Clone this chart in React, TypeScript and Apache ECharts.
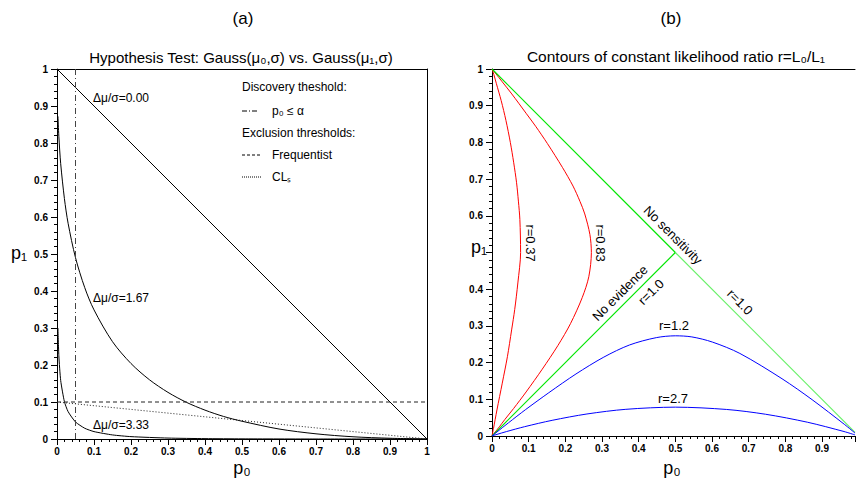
import React, { useEffect, useRef } from "react";
import * as echarts from "echarts";

// ---------- Panel (a) data: p0 vs p1 for Gauss(mu0,sigma) vs Gauss(mu1,sigma) ----------
const dmu000: number[][] = [[0, 1], [1, 0]];
const dmu167: number[][] = [
  [0.0025, 0.872], [0.005, 0.818], [0.01, 0.744], [0.02, 0.65], [0.03, 0.583], [0.05, 0.49],
  [0.075, 0.409], [0.1, 0.349], [0.15, 0.263], [0.2, 0.204], [0.25, 0.16], [0.3, 0.126],
  [0.35, 0.099], [0.4, 0.078], [0.45, 0.061], [0.5, 0.048], [0.6, 0.027], [0.7, 0.014],
  [0.8, 0.006], [0.9, 0.002], [1, 0],
];
const dmu333: number[][] = [
  [0.0025, 0.3], [0.005, 0.225], [0.01, 0.158], [0.02, 0.101], [0.03, 0.074], [0.05, 0.046],
  [0.075, 0.029], [0.1, 0.02], [0.15, 0.011], [0.2, 0.0064], [0.3, 0.0025], [0.4, 0.001],
  [0.5, 0.0004], [0.7, 0], [1, 0],
];
const discoveryLine: number[][] = [[0.05, 0], [0.05, 1]];
const frequentistLine: number[][] = [[0, 0.1], [1, 0.1]];
const clsLine: number[][] = [[0, 0.1], [1, 0]];

// ---------- Panel (b) data: contours of constant likelihood ratio ----------
const r037: number[][] = [
  [0, 1], [0.0003, 0.999], [0.005, 0.985], [0.012, 0.96], [0.025, 0.914], [0.038, 0.86],
  [0.05, 0.8], [0.059, 0.746], [0.067, 0.69], [0.072, 0.64], [0.076, 0.59], [0.078, 0.5],
  [0.0705, 0.417], [0.062, 0.345], [0.0535, 0.289], [0.042, 0.216], [0.028, 0.144],
  [0.0135, 0.071], [0.004, 0.02], [0, 0],
];
const r083: number[][] = [
  [0, 1], [0.009, 0.989], [0.028, 0.965], [0.054, 0.932], [0.094, 0.878], [0.119, 0.844],
  [0.151, 0.797], [0.192, 0.732], [0.221, 0.681], [0.24, 0.639], [0.253, 0.605],
  [0.267, 0.549], [0.271, 0.5], [0.264, 0.434], [0.246, 0.377], [0.214, 0.306], [0.18, 0.247],
  [0.137, 0.182], [0.093, 0.12], [0.059, 0.075], [0.035, 0.045], [0.02, 0.025], [0.0056, 0.007],
  [0, 0],
];
const noSensitivityUpper: number[][] = [[0, 1], [0.5, 0.5]];
const noSensitivityLower: number[][] = [[0.5, 0.5], [0.99, 0.01]];
const noEvidence: number[][] = [[0, 0], [0.5, 0.5]];
const r12: number[][] = [
  [0, 0], [0.0015, 0.0012], [0.0136, 0.011], [0.045, 0.036], [0.091, 0.0715], [0.155, 0.118],
  [0.229, 0.169], [0.305, 0.215], [0.375, 0.248], [0.448, 0.268], [0.5, 0.273], [0.545, 0.27],
  [0.601, 0.256], [0.676, 0.225], [0.791, 0.156], [0.873, 0.099], [0.962, 0.031], [0.99, 0.008],
];
const r27: number[][] = [
  [0, 0], [0.0107, 0.0035], [0.04, 0.0122], [0.089, 0.0254], [0.164, 0.0427], [0.259, 0.06],
  [0.365, 0.0727], [0.5, 0.0786], [0.64, 0.0723], [0.746, 0.0593], [0.86, 0.0376],
  [0.96, 0.0122], [0.99, 0.003],
];

const FONT = "'Liberation Sans', Arial, Helvetica, sans-serif";

function mainXAxis(grid: number, max: number) {
  return {
    gridIndex: grid,
    type: "value",
    min: 0,
    max,
    interval: 0.1,
    position: "bottom",
    axisLine: { show: true, onZero: false, lineStyle: { color: "#000", width: 1 } },
    axisTick: { show: true, length: 6, lineStyle: { color: "#000" } },
    minorTick: { show: true, splitNumber: 5, length: 3, lineStyle: { color: "#000" } },
    splitLine: { show: false },
    minorSplitLine: { show: false },
    axisLabel: {
      show: true,
      margin: 7,
      fontSize: 10,
      fontWeight: "bold",
      fontFamily: FONT,
      color: "#000",
      showMaxLabel: max === 1 ? true : false,
      formatter: (v: number) => String(Math.round(v * 10) / 10),
    },
  };
}
function mainYAxis(grid: number, hideHalf: boolean) {
  return {
    gridIndex: grid,
    type: "value",
    min: 0,
    max: 1,
    interval: 0.1,
    position: "left",
    axisLine: { show: true, onZero: false, lineStyle: { color: "#000", width: 1 } },
    axisTick: { show: true, length: 6, lineStyle: { color: "#000" } },
    minorTick: { show: true, splitNumber: 5, length: 3, lineStyle: { color: "#000" } },
    splitLine: { show: false },
    minorSplitLine: { show: false },
    axisLabel: {
      show: true,
      margin: 9,
      fontSize: 10,
      fontWeight: "bold",
      fontFamily: FONT,
      color: "#000",
      formatter: (v: number) => {
        const r = Math.round(v * 10) / 10;
        if (hideHalf && r === 0.5) return "";
        return String(r);
      },
    },
  };
}
function frameAxis(grid: number, position: string, max: number) {
  return {
    gridIndex: grid,
    type: "value",
    min: 0,
    max,
    position,
    axisLine: { show: true, onZero: false, lineStyle: { color: "#000", width: 1 } },
    axisTick: { show: false },
    axisLabel: { show: false },
    splitLine: { show: false },
  };
}

function lineSeries(data: number[][], grid: number, color: string, type: any = "solid", smooth: any = false, width = 1) {
  return {
    type: "line",
    xAxisIndex: grid === 0 ? 0 : 2,
    yAxisIndex: grid === 0 ? 0 : 2,
    data,
    showSymbol: false,
    symbol: "none",
    smooth,
    lineStyle: { color, width, type },
    silent: true,
  };
}

function txt(x: number, y: number, text: string, size: number, opts: any = {}) {
  return {
    type: "text",
    x,
    y,
    rotation: opts.rotation || 0,
    style: {
      text,
      fontSize: size,
      fontFamily: FONT,
      fontWeight: opts.weight || "normal",
      fill: "#000",
      align: opts.align || "center",
      verticalAlign: "middle",
    },
  };
}
function seg(x1: number, y1: number, x2: number, y2: number, dash: any) {
  return {
    type: "line",
    shape: { x1, y1, x2, y2 },
    style: { stroke: "#000", lineWidth: 1, lineDash: dash },
  };
}

export default function App() {
  const ref = useRef<HTMLDivElement>(null);
  useEffect(() => {
    if (!ref.current) return;
    const chart = echarts.init(ref.current, null, { renderer: "svg" });
    const Q = Math.PI / 4;
    chart.setOption({
      animation: false,
      backgroundColor: "#fff",
      grid: [
        { left: 57, top: 69, width: 370, height: 370, show: false },
        { left: 492, top: 69, width: 363, height: 367, show: false },
      ],
      xAxis: [
        mainXAxis(0, 1),
        frameAxis(0, "top", 1),
        mainXAxis(1, 0.99),
        frameAxis(1, "top", 0.99),
      ],
      yAxis: [
        mainYAxis(0, false),
        frameAxis(0, "right", 1),
        mainYAxis(1, true),
      ],
      series: [
        lineSeries(dmu000, 0, "#000"),
        lineSeries(dmu167, 0, "#000", "solid", 0.3),
        lineSeries(dmu333, 0, "#000", "solid", 0.2),
        lineSeries(discoveryLine, 0, "#444", [6, 3, 1, 3]),
        lineSeries(frequentistLine, 0, "#222", [4, 3]),
        lineSeries(clsLine, 0, "#222", [1, 2]),
        lineSeries(r037, 1, "#ff0000", "solid", 0.3),
        lineSeries(r083, 1, "#ff0000", "solid", 0.3),
        lineSeries(noSensitivityUpper, 1, "#00e600", "solid", false, 1.2),
        lineSeries(noSensitivityLower, 1, "#66f066", "solid", false, 1.2),
        lineSeries(noEvidence, 1, "#00e600", "solid", false, 1.2),
        lineSeries(r12, 1, "#0000ff", "solid", 0.3),
        lineSeries(r27, 1, "#0000ff", "solid", 0.3),
      ],
      graphic: [
        txt(243, 18, "(a)", 17),
        txt(671, 18, "(b)", 17),
        txt(241, 57, "Hypothesis Test: Gauss(μ₀,σ) vs. Gauss(μ₁,σ)", 15),
        txt(676, 56, "Contours of constant likelihood ratio r=L₀/L₁", 15.5),
        txt(19, 253, "p₁", 18),
        txt(242, 468, "p₀", 18),
        txt(479, 247, "p₁", 18),
        txt(672, 468, "p₀", 18),
        // panel (a) annotations
        txt(93, 98, "Δμ/σ=0.00", 12, { align: "left" }),
        txt(93, 298, "Δμ/σ=1.67", 12, { align: "left" }),
        txt(93, 425, "Δμ/σ=3.33", 12, { align: "left" }),
        txt(242, 87, "Discovery theshold:", 12, { align: "left" }),
        seg(242, 111, 258, 111, [5, 2, 1, 2]),
        txt(272, 111, "p₀ ≤ α", 12, { align: "left" }),
        txt(242, 133, "Exclusion thresholds:", 12, { align: "left" }),
        seg(242, 155, 262, 155, [3, 2]),
        txt(272, 155, "Frequentist", 12, { align: "left" }),
        seg(242, 177, 262, 177, [1, 1]),
        txt(272, 177, "CLₛ", 12, { align: "left" }),
        // panel (b) annotations
        txt(530, 243, "r=0.37", 13, { rotation: -Math.PI / 2 }),
        txt(600, 243, "r=0.83", 13, { rotation: -Math.PI / 2 }),
        txt(673, 235, "No sensitivity", 13, { rotation: -Q }),
        txt(740, 302, "r=1.0", 13, { rotation: -Q }),
        txt(620, 293, "No evidence", 13, { rotation: Q }),
        txt(651, 292, "r=1.0", 13, { rotation: Q }),
        txt(674, 325, "r=1.2", 13),
        txt(673, 398, "r=2.7", 13),
      ],
    });
    return () => chart.dispose();
  }, []);
  return <div ref={ref} style={{ width: 856, height: 484, position: "absolute", left: 0, top: 0 }} />;
}
